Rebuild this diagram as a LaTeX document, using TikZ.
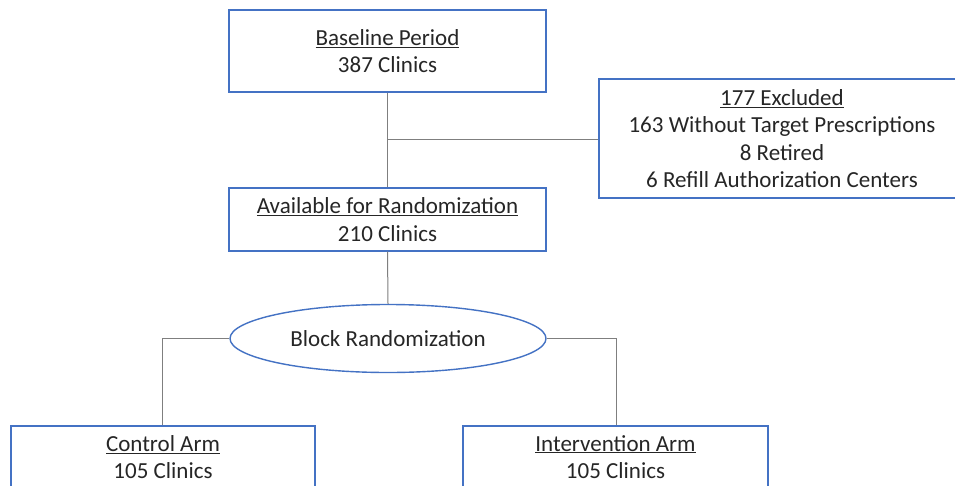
\documentclass[tikz,border=0pt]{standalone}
\usepackage{fontspec}
\setmainfont{Carlito}
\usetikzlibrary{shapes.geometric}
\definecolor{boxblue}{HTML}{4472C4}
\definecolor{linegray}{HTML}{7F7F7F}
\definecolor{txt}{HTML}{262626}
\tikzset{
  box/.style={draw=boxblue, line width=1.4pt, fill=white, align=center, inner sep=0pt, text=txt,
    font=\fontsize{23}{27.5}\selectfont},
  oval/.style={ellipse, draw=boxblue, line width=1.4pt, fill=white, inner sep=0pt, text=txt,
    font=\fontsize{23}{27.5}\selectfont},
  conn/.style={draw=linegray, line width=1pt}
}
\newcommand{\ul}[1]{\underline{#1}}
\begin{document}
\begin{tikzpicture}[x=1pt,y=-1pt]
\useasboundingbox (0,0) rectangle (955,485);
\clip (0,0) rectangle (955,485);
\fill[white] (0,0) rectangle (955,485);
\coordinate (j1) at (387.5,139);
\coordinate (lc) at (162,338.5);
\coordinate (rc) at (616,338.5);
\node[box, minimum width=317pt, minimum height=82pt] (base) at (387.5,51) {\ul{Baseline Period}\\387 Clinics};
\node[box, minimum width=366pt, minimum height=119pt] (excl) at (782,138.5) {\ul{177 Excluded}\\163 Without Target Prescriptions\\8 Retired\\6 Refill Authorization Centers};
\node[box, minimum width=317pt, minimum height=63pt] (avail) at (387.5,219.5) {\ul{Available for Randomization}\\210 Clinics};
\node[oval, minimum width=316pt, minimum height=68pt] (block) at (388,338.5) {Block Randomization};
\node[box, minimum width=304pt, minimum height=62pt] (ctrl) at (163,457) {\ul{Control Arm}\\105 Clinics};
\node[box, minimum width=305pt, minimum height=62pt] (intv) at (615.5,457) {\ul{Intervention Arm}\\105 Clinics};
\draw[conn] (base.south) -- (avail.north);
\draw[conn] (j1) -- (excl.west |- j1);
\draw[conn] (avail.south) -- (block.north);
\draw[conn] (block.west) -- (lc) -- (ctrl.north -| lc);
\draw[conn] (block.east) -- (rc) -- (intv.north -| rc);
\end{tikzpicture}
\end{document}
